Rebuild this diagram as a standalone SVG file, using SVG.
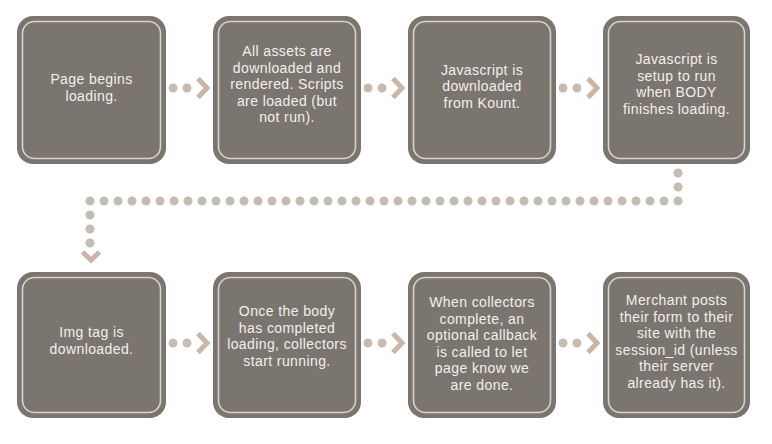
<svg xmlns="http://www.w3.org/2000/svg" width="772" height="444" viewBox="0 0 772 444">
<style>
.box{fill:#7a756f;}
.inner{fill:none;stroke:#d9d3cc;stroke-width:1.6;}
.t{font-family:"Liberation Sans",Arial,sans-serif;font-size:14px;letter-spacing:0.4px;fill:#f3f0ec;text-anchor:middle;}
.dots{fill:none;stroke:#c6bcb2;stroke-width:9;stroke-linecap:round;stroke-dasharray:0 14;}
.chev{fill:none;stroke:#cbb5a9;stroke-width:5;stroke-linejoin:miter;stroke-linecap:butt;}
</style>
<rect width="772" height="444" fill="#ffffff"/>
<g id="connectors">
<path class="dots" d="M173 88 H187.5"/>
<polyline class="chev" points="198,78.5 207,88 198,97.5"/>
<path class="dots" d="M368 88 H382.5"/>
<polyline class="chev" points="393,78.5 402,88 393,97.5"/>
<path class="dots" d="M563 88 H577.5"/>
<polyline class="chev" points="588,78.5 597,88 588,97.5"/>
<path class="dots" d="M678 173 V201 H90 V243.5"/>
<polyline class="chev" points="82.5,252 91,260 99.5,252"/>
<path class="dots" d="M173 343 H187.5"/>
<polyline class="chev" points="198,333.5 207,343 198,352.5"/>
<path class="dots" d="M368 343 H382.5"/>
<polyline class="chev" points="393,333.5 402,343 393,352.5"/>
<path class="dots" d="M563 343 H577.5"/>
<polyline class="chev" points="588,333.5 597,343 588,352.5"/>
</g>
<g id="n1">
<rect class="box" x="17" y="16" width="149" height="148" rx="16"/>
<rect class="inner" x="22.5" y="21.5" width="138" height="137" rx="12"/>
<text class="t" x="91.5" y="84">Page begins</text>
<text class="t" x="91.5" y="100.5">loading.</text>
</g>
<g id="n2">
<rect class="box" x="213" y="16" width="148" height="148" rx="16"/>
<rect class="inner" x="218.5" y="21.5" width="137" height="137" rx="12"/>
<text class="t" x="287" y="56">All assets are</text>
<text class="t" x="287" y="72.5">downloaded and</text>
<text class="t" x="287" y="89">rendered. Scripts</text>
<text class="t" x="287" y="105.5">are loaded (but</text>
<text class="t" x="287" y="122">not run).</text>
</g>
<g id="n3">
<rect class="box" x="408" y="16" width="148" height="148" rx="16"/>
<rect class="inner" x="413.5" y="21.5" width="137" height="137" rx="12"/>
<text class="t" x="482" y="74.5">Javascript is</text>
<text class="t" x="482" y="91">downloaded</text>
<text class="t" x="482" y="107.5">from Kount.</text>
</g>
<g id="n4">
<rect class="box" x="603" y="16" width="147" height="148" rx="16"/>
<rect class="inner" x="608.5" y="21.5" width="136" height="137" rx="12"/>
<text class="t" x="676.5" y="64">Javascript is</text>
<text class="t" x="676.5" y="80.5">setup to run</text>
<text class="t" x="676.5" y="97">when BODY</text>
<text class="t" x="676.5" y="113.5">finishes loading.</text>
</g>
<g id="n5">
<rect class="box" x="17" y="272" width="149" height="146" rx="16"/>
<rect class="inner" x="22.5" y="277.5" width="138" height="135" rx="12"/>
<text class="t" x="91.5" y="337">Img tag is</text>
<text class="t" x="91.5" y="353.5">downloaded.</text>
</g>
<g id="n6">
<rect class="box" x="213" y="272" width="148" height="146" rx="16"/>
<rect class="inner" x="218.5" y="277.5" width="137" height="135" rx="12"/>
<text class="t" x="287" y="316">Once the body</text>
<text class="t" x="287" y="332.5">has completed</text>
<text class="t" x="287" y="349">loading, collectors</text>
<text class="t" x="287" y="365.5">start running.</text>
</g>
<g id="n7">
<rect class="box" x="408" y="272" width="148" height="146" rx="16"/>
<rect class="inner" x="413.5" y="277.5" width="137" height="135" rx="12"/>
<text class="t" x="482" y="307">When collectors</text>
<text class="t" x="482" y="323.5">complete, an</text>
<text class="t" x="482" y="340">optional callback</text>
<text class="t" x="482" y="356.5">is called to let</text>
<text class="t" x="482" y="373">page know we</text>
<text class="t" x="482" y="389.5">are done.</text>
</g>
<g id="n8">
<rect class="box" x="603" y="272" width="147" height="146" rx="16"/>
<rect class="inner" x="608.5" y="277.5" width="136" height="135" rx="12"/>
<text class="t" x="676.5" y="305">Merchant posts</text>
<text class="t" x="676.5" y="321.5">their form to their</text>
<text class="t" x="676.5" y="338">site with the</text>
<text class="t" x="676.5" y="354.5">session_id (unless</text>
<text class="t" x="676.5" y="371">their server</text>
<text class="t" x="676.5" y="387.5">already has it).</text>
</g>
</svg>
